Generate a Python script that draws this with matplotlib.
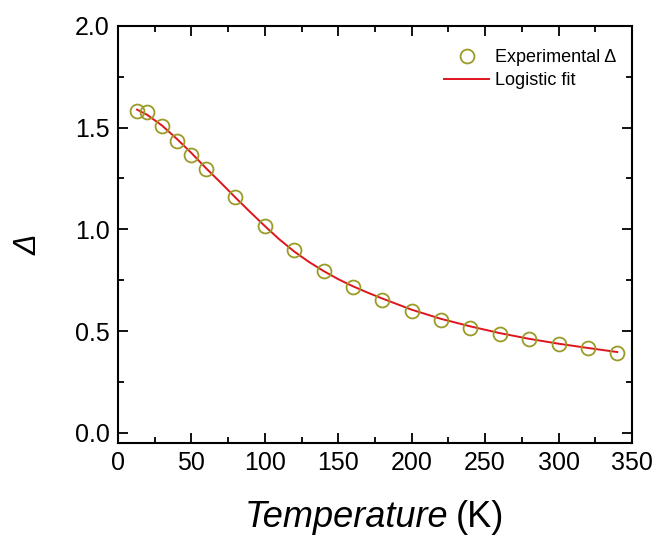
import numpy as np
import matplotlib.pyplot as plt

plt.rcParams['font.family'] = ['Liberation Sans', 'DejaVu Sans']

# Experimental points
temp = [13, 20, 30, 40, 50, 60, 80, 100, 120, 140, 160, 180, 200, 220, 240,
        260, 280, 300, 320, 340]
delta = [1.582, 1.574, 1.508, 1.435, 1.367, 1.297, 1.160, 1.017, 0.899, 0.796,
         0.717, 0.654, 0.600, 0.555, 0.517, 0.486, 0.462, 0.438, 0.418, 0.393]

# Logistic fit curve
fit_t = [13, 20, 30, 40, 50, 60, 70, 80, 90, 100, 110, 120, 130, 140, 150,
         160, 170, 180, 200, 220, 240, 260, 280, 300, 320, 340]
fit_d = [1.588, 1.562, 1.510, 1.445, 1.375, 1.300, 1.229, 1.156, 1.085, 1.016,
         0.950, 0.891, 0.840, 0.795, 0.755, 0.720, 0.689, 0.660, 0.605, 0.560,
         0.523, 0.490, 0.462, 0.438, 0.417, 0.397]

fig = plt.figure(figsize=(6.59, 5.37), dpi=100)
ax = fig.add_axes([0.179, 0.175, 0.780, 0.777])

ax.plot(temp, delta, 'o', ms=10, mfc='none', mec='#9b9b28', mew=1.3,
        label='Experimental \u0394', zorder=3)
ax.plot(fit_t, fit_d, '-', color='#e0141c', lw=1.4, label='Logistic fit', zorder=2)

ax.set_xlim(0, 350)
ax.set_ylim(-0.05, 2.0)
ax.set_xticks(np.arange(0, 351, 50))
ax.set_xticks(np.arange(25, 350, 50), minor=True)
ax.set_yticks([0.0, 0.5, 1.0, 1.5, 2.0])
ax.set_yticks([0.25, 0.75, 1.25, 1.75], minor=True)
ax.set_yticklabels(['0.0', '0.5', '1.0', '1.5', '2.0'])

ax.tick_params(which='both', direction='in', top=True, right=True,
               labelsize=18, width=1.3)
ax.tick_params(which='major', length=7, pad=6)
ax.tick_params(which='minor', length=4)
for s in ax.spines.values():
    s.set_linewidth(1.5)

# x label: italic word + upright unit, centred under the axes
fig.text(0.681, 0.019, 'Temperature', fontsize=26, style='italic',
         ha='right', va='baseline')
fig.text(0.692, 0.019, '(K)', fontsize=26, ha='left', va='baseline')
ax.set_ylabel('\u0394', fontsize=22, style='italic')
ax.yaxis.set_label_coords(-0.145, 0.475)

ax.legend(loc='upper right', bbox_to_anchor=(0.99, 0.97), frameon=False,
          fontsize=13, handlelength=2.5, handletextpad=0.3, labelspacing=0.35,
          borderaxespad=0.2)

fig.savefig('out.png', dpi=100)
